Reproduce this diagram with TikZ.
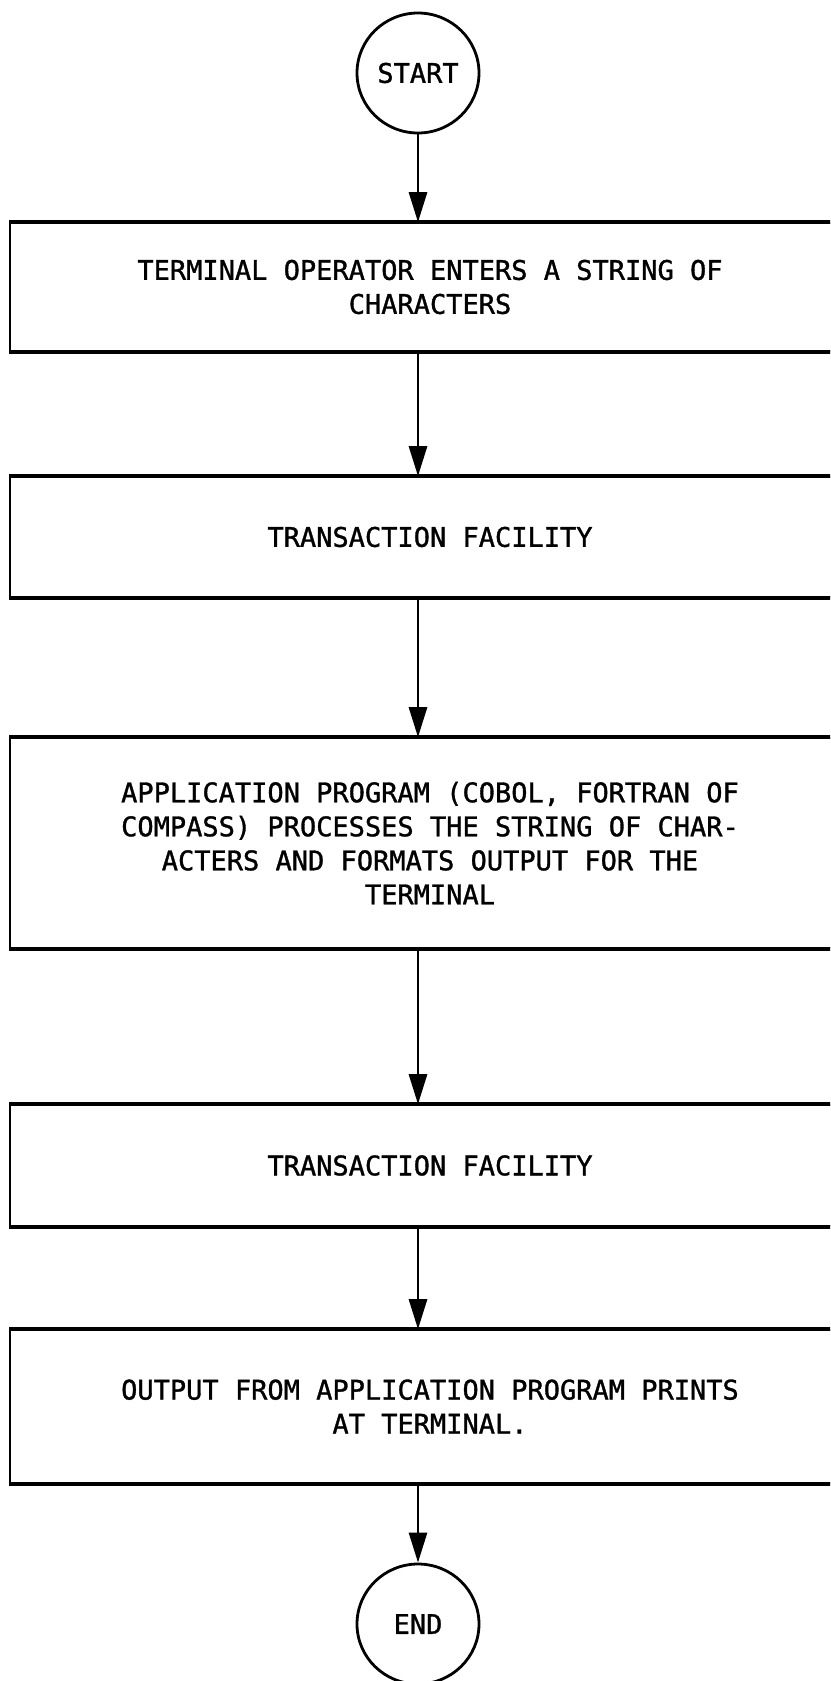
\documentclass[tikz,border=0pt]{standalone}
\usepackage{fontspec}
\setmonofont[FakeBold=1.2]{DejaVu Sans Mono}
\usetikzlibrary{arrows.meta,shapes.geometric}
\begin{document}
\begin{tikzpicture}[x=1pt,y=-1pt,
  stepbox/.style={draw,line width=1.6pt,rectangle,minimum width=840pt,align=center,
    font=\ttfamily\fontsize{27}{34}\selectfont,inner sep=0pt},
  term/.style={draw,line width=2.8pt,ellipse,minimum width=122pt,minimum height=120pt,
    inner sep=0pt,font=\ttfamily\fontsize{27}{34}\selectfont},
  flow/.style={line width=2.8pt,-{Triangle[width=18pt,length=30pt]}},
  edgeline/.style={line width=4pt}]
\useasboundingbox (0,0) rectangle (830,1681);
\clip (0,0) rectangle (830,1681);
\fill[white] (0,0) rectangle (830,1681);

\node[term] (start) at (418,73) {START};
\node[stepbox,minimum height=128pt] (b1) at (430,287)
  {TERMINAL OPERATOR ENTERS A STRING OF\\CHARACTERS};
\node[stepbox,minimum height=120pt] (b2) at (430,537) {TRANSACTION FACILITY};
\node[stepbox,minimum height=210pt] (b3) at (430,843)
  {APPLICATION PROGRAM (COBOL, FORTRAN OF\\COMPASS) PROCESSES THE STRING OF CHAR-\\ACTERS AND FORMATS OUTPUT FOR THE\\TERMINAL};
\node[stepbox,minimum height=121pt] (b4) at (430,1165.5) {TRANSACTION FACILITY};
\node[stepbox,minimum height=153pt] (b5) at (430,1406.5)
  {OUTPUT FROM APPLICATION PROGRAM PRINTS\\AT TERMINAL.};
\node[term] (end) at (418,1624) {END};

\foreach \b in {b1,b2,b3,b4,b5}{
  \draw[edgeline] (\b.north west) -- (\b.north east);
  \draw[edgeline] (\b.south west) -- (\b.south east);
}

\draw[flow] (start.south) -- (b1.north -| start.south);
\draw[flow] (b1.south -| start.south) -- (b2.north -| start.south);
\draw[flow] (b2.south -| start.south) -- (b3.north -| start.south);
\draw[flow] (b3.south -| start.south) -- (b4.north -| start.south);
\draw[flow] (b4.south -| start.south) -- (b5.north -| start.south);
\draw[flow] (b5.south -| start.south) -- (end.north);
\end{tikzpicture}
\end{document}
